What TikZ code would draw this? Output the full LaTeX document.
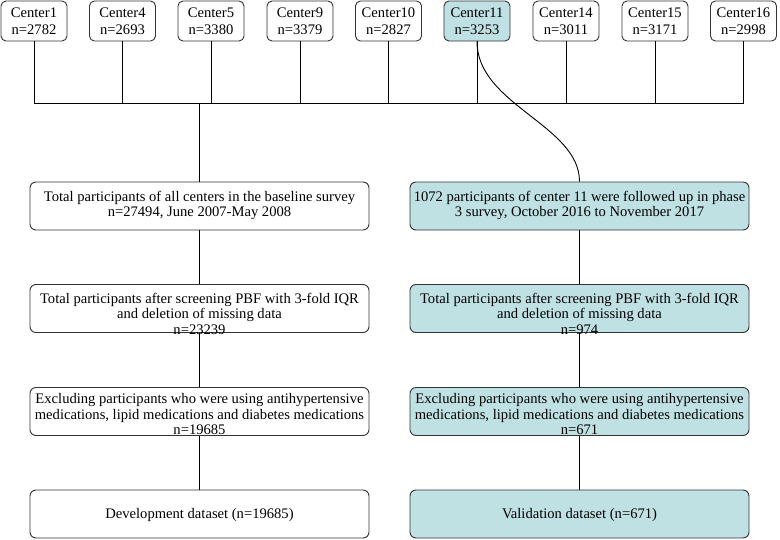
\documentclass[tikz,border=0pt]{standalone}
\usepackage{fontspec}
\setmainfont{Liberation Serif}
\definecolor{tealfill}{HTML}{BFE1E4}
\definecolor{edgegray}{HTML}{333333}
\begin{document}
\begin{tikzpicture}[x=1pt,y=-1pt,
  cbox/.style={draw=edgegray, line width=0.9pt, rounded corners=5pt, minimum width=66pt, minimum height=40pt, inner sep=0pt, align=center, font=\fontsize{14.6}{17}\selectfont},
  bigbox/.style={draw=edgegray, line width=0.9pt, rounded corners=6pt, minimum width=339pt, minimum height=48pt, inner sep=0pt},
  hl/.style={fill=tealfill},
  txt/.style={align=center, inner sep=0pt, font=\fontsize{14.6}{15.5}\selectfont},
  conn/.style={draw=black, line width=0.9pt}
]
\useasboundingbox (0,0) rectangle (780,539);

% top center boxes
\node[cbox] (c1)  at (34,21)    {Center1\\n=2782};
\node[cbox] (c4)  at (122.5,21) {Center4\\n=2693};
\node[cbox] (c5)  at (211,21)   {Center5\\n=3380};
\node[cbox] (c9)  at (300,21)   {Center9\\n=3379};
\node[cbox] (c10) at (388.5,21) {Center10\\n=2827};
\node[cbox,hl] (c11) at (477,21) {Center11\\n=3253};
\node[cbox] (c14) at (566,21)   {Center14\\n=3011};
\node[cbox] (c15) at (655,21)   {Center15\\n=3171};
\node[cbox] (c16) at (743.5,21) {Center16\\n=2998};

% bus coordinates
\coordinate (b1)  at (34,103);
\coordinate (b4)  at (122.5,103);
\coordinate (b5)  at (211,103);
\coordinate (b9)  at (300,103);
\coordinate (b10) at (388.5,103);
\coordinate (b11) at (477,103);
\coordinate (b14) at (566,103);
\coordinate (b15) at (655,103);
\coordinate (b16) at (743.5,103);
\coordinate (bm)  at (199.5,103);

% left column
\node[bigbox] (L1) at (199.5,206)   {};
\node[bigbox] (L2) at (199.5,308.5) {};
\node[bigbox] (L3) at (199.5,411.5) {};
\node[bigbox] (L4) at (199.5,514)   {};
% right column
\node[bigbox,hl] (R1) at (579.5,206)   {};
\node[bigbox,hl] (R2) at (579.5,308.5) {};
\node[bigbox,hl] (R3) at (579.5,411.5) {};
\node[bigbox,hl] (R4) at (579.5,514)   {};

% connectors
\foreach \i in {1,4,5,9,10,11,14,15,16} \draw[conn] (c\i.south) -- (b\i);
\draw[conn] (b1) -- (b16);
\draw[conn] (bm) -- (L1.north);
\draw[conn] (L1.south) -- (L2.north);
\draw[conn] (L2.south) -- (L3.north);
\draw[conn] (L3.south) -- (L4.north);
\draw[conn] (c11.south) .. controls (477,105) and (579.5,125) .. (R1.north);
\draw[conn] (R1.south) -- (R2.north);
\draw[conn] (R2.south) -- (R3.north);
\draw[conn] (R3.south) -- (R4.north);

% texts
\node[txt] (L1t) at (199.5,205.5) {Total participants of all centers in the baseline survey\\n=27494, June 2007-May 2008};
\node[txt] (L2t) at (199.5,313.5) {Total participants after screening PBF with 3-fold IQR\\and deletion of missing data\\n=23239};
\node[txt] (L3t) at (199.5,414) {Excluding participants who were using antihypertensive\\medications, lipid medications and diabetes medications\\n=19685};
\node[txt] (L4t) at (199.5,515) {Development dataset (n=19685)};
\node[txt] (R1t) at (579.5,205.5) {1072 participants of center 11 were followed up in phase\\3 survey, October 2016 to November 2017};
\node[txt] (R2t) at (579.5,313.5) {Total participants after screening PBF with 3-fold IQR\\and deletion of missing data\\n=974};
\node[txt] (R3t) at (579.5,414) {Excluding participants who were using antihypertensive\\medications, lipid medications and diabetes medications\\n=671};
\node[txt] (R4t) at (579.5,515) {Validation dataset (n=671)};
\end{tikzpicture}
\end{document}
